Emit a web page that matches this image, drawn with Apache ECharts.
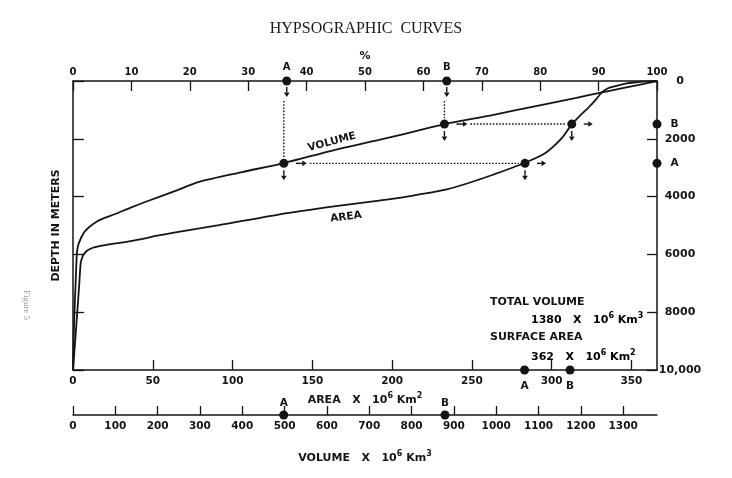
<!DOCTYPE html>
<html><head><meta charset="utf-8">
<script src="https://cdn.jsdelivr.net/npm/echarts@6/dist/echarts.min.js"></script>
<style>html,body{margin:0;padding:0;background:#fff}#c{width:732px;height:478px}</style>
</head><body><div id="c"></div>
<script>
// ---------- data ----------
const pctTicks = [0, 10, 20, 30, 40, 50, 60, 70, 80, 90, 100];
const depthTicks = [0, 2000, 4000, 6000, 8000, 10000];
const areaTicks = [0, 50, 100, 150, 200, 250, 300, 350];
const volumeTicks = [0, 100, 200, 300, 400, 500, 600, 700, 800, 900, 1000, 1100, 1200, 1300];
const areaAxisMax = 366;      // right end of hand-drawn area scale
const totalVolume = 1380;     // 10^6 km^3
const totalArea = 362;        // 10^6 km^2

// cumulative volume curve (% of total) vs depth (m)
const volumeCurvePct = [0, 0.1, 0.25, 0.45, 0.63, 0.74, 1.03, 1.88, 2.74, 4.16, 5.5, 7.0, 9.9, 12.7, 17.3, 21.6, 29.0, 36.1, 44.9, 52.4, 60.9, 63.6, 72.0, 79.7, 86.0, 90.6, 93.5, 96.9, 100];
const volumeCurveDepth = [10000, 9000, 8000, 7000, 6060, 5830, 5590, 5240, 5060, 4850, 4730, 4620, 4380, 4160, 3820, 3490, 3150, 2840, 2380, 2040, 1625, 1490, 1170, 850, 590, 390, 270, 130, 0];

// cumulative area curve (% of total) vs depth (m)
const areaCurvePct = [0, 0.37, 0.73, 1.08, 1.32, 1.6, 1.88, 2.3, 2.74, 3.4, 4.16, 5.5, 7.0, 9.9, 14.7, 17.3, 25.0, 35.2, 45.0, 52.4, 55.8, 63.8, 69.5, 75.1, 77.4, 80.9, 83.7, 85.4, 86.9, 88.3, 89.5, 90.5, 91.7, 93.4, 94.8, 96.8, 98.5, 100];
const areaCurveDepth = [10000, 9000, 8000, 7000, 6290, 6100, 5990, 5890, 5830, 5770, 5735, 5680, 5630, 5540, 5345, 5250, 4990, 4620, 4330, 4140, 4045, 3760, 3410, 3010, 2830, 2490, 1980, 1500, 1180, 910, 655, 400, 241, 150, 86, 35, 10, 0];

// reference points A and B
const refNames = ['A', 'B'];
const refDepth = [2850, 1490];
const refTopPct = [36.6, 64.0];
const refVolumePct = [36.1, 63.6];
const refAreaPct = [77.4, 85.4];
const refArea = [283, 311.5];
const refVolume = [498, 879];

// ---------- styling / layout ----------
const W = 732, PLOT_LEFT = 73, PLOT_RIGHT = 75;
const PLOT_W = W - PLOT_LEFT - PLOT_RIGHT;
const INK = '#141414';
const F = 'DejaVu Sans';
const lab = (size) => ({ fontFamily: F, fontSize: size, fontWeight: 'bold', color: INK });
const sup = { fontFamily: F, fontSize: 8, fontWeight: 'bold', color: INK, padding: [0, 0, 8, 0] };
const axLine = { show: true, onZero: false, lineStyle: { color: INK, width: 1.5 } };
const tickIn = (len, inside) => ({ show: true, inside: inside, length: len, lineStyle: { color: INK, width: 1.3 } });
const plain = v => String(v);

function arrowEls(x1, y1, x2, y2) {
  const dx = x2 - x1, dy = y2 - y1, len = Math.hypot(dx, dy), ux = dx / len, uy = dy / len;
  const hl = 4.5, hw = 2.8;
  const bx = x2 - ux * hl, by = y2 - uy * hl;
  return [
    { type: 'line', shape: { x1: x1, y1: y1, x2: bx, y2: by }, style: { stroke: INK, lineWidth: 1.4 } },
    { type: 'polygon', shape: { points: [[x2, y2], [bx - uy * hw, by + ux * hw], [bx + uy * hw, by - ux * hw]] }, style: { fill: INK } }
  ];
}
function dotted(x1, y1, x2, y2) {
  return { type: 'line', shape: { x1: x1, y1: y1, x2: x2, y2: y2 }, style: { stroke: INK, lineWidth: 1.4, lineDash: [1.6, 1.6] } };
}

const chart = echarts.init(document.getElementById('c'), null, { renderer: 'canvas' });

const dotStyle = { color: INK, opacity: 1 };
const depthScale = { min: depthTicks[0], max: depthTicks[depthTicks.length - 1], interval: depthTicks[1] - depthTicks[0], inverse: true };

const option = {
  backgroundColor: '#ffffff',
  animation: false,
  title: {
    text: 'HYPSOGRAPHIC  CURVES', left: 'center', top: 21, padding: 0,
    textStyle: { fontFamily: 'Liberation Serif', fontSize: 16, fontWeight: 'normal', color: '#1a1a1a' }
  },
  grid: [
    { left: PLOT_LEFT, right: PLOT_RIGHT, top: 81, bottom: 108 },
    { left: PLOT_LEFT, right: PLOT_RIGHT, top: 405, bottom: 63 }
  ],
  xAxis: [
    {
      type: 'value', gridIndex: 0, position: 'top', min: pctTicks[0], max: pctTicks[pctTicks.length - 1], interval: pctTicks[1] - pctTicks[0],
      name: '%', nameLocation: 'middle', nameGap: 17, nameTextStyle: lab(11),
      axisLine: axLine, axisTick: tickIn(10, true), splitLine: { show: false },
      axisLabel: Object.assign({ margin: 4, formatter: plain }, lab(10))
    },
    {
      type: 'value', gridIndex: 0, position: 'bottom', min: areaTicks[0], max: areaAxisMax, interval: areaTicks[1] - areaTicks[0],
      name: '{t|AREA   X   10}{s|6}{t| Km}{s|2}', nameLocation: 'middle', nameGap: 21,
      nameTextStyle: { rich: { t: lab(11), s: sup } },
      axisLine: axLine, axisTick: tickIn(10, true), splitLine: { show: false },
      axisLabel: Object.assign({ margin: 6, showMaxLabel: false, formatter: plain }, lab(10.5))
    },
    {
      type: 'value', gridIndex: 1, position: 'bottom', min: volumeTicks[0], max: totalVolume, interval: volumeTicks[1] - volumeTicks[0],
      name: '{t|VOLUME   X   10}{s|6}{t| Km}{s|3}', nameLocation: 'middle', nameGap: 35,
      nameTextStyle: { rich: { t: lab(11), s: sup } },
      axisLine: axLine, axisTick: tickIn(9, true), splitLine: { show: false },
      axisLabel: Object.assign({ margin: 6, showMaxLabel: false, formatter: plain }, lab(10.5))
    }
  ],
  yAxis: [
    Object.assign({
      type: 'value', gridIndex: 0, position: 'right',
      axisLine: axLine, axisTick: tickIn(10, true), splitLine: { show: false },
      axisLabel: Object.assign({ margin: 23, align: 'center', formatter: v => v >= 10000 ? '10,000' : String(v) }, lab(11))
    }, depthScale),
    Object.assign({
      type: 'value', gridIndex: 0, position: 'left',
      name: 'DEPTH IN METERS', nameLocation: 'middle', nameGap: 11, nameRotate: 90, nameTextStyle: lab(11),
      axisLine: axLine, axisTick: tickIn(11, true), splitLine: { show: false }, axisLabel: { show: false }
    }, depthScale),
    { type: 'value', gridIndex: 1, min: 0, max: 1, show: false }
  ],
  series: [
    {
      name: 'Volume', type: 'line', xAxisIndex: 0, yAxisIndex: 0, showSymbol: false, symbol: 'none',
      smooth: 0.25, lineStyle: { color: INK, width: 1.8 },
      data: volumeCurvePct.map((p, i) => [p, volumeCurveDepth[i]]), z: 3
    },
    {
      name: 'Area', type: 'line', xAxisIndex: 0, yAxisIndex: 0, showSymbol: false, symbol: 'none',
      smooth: 0.25, lineStyle: { color: INK, width: 1.8 },
      data: areaCurvePct.map((p, i) => [p, areaCurveDepth[i]]), z: 3
    },
    {
      name: 'Construction', type: 'custom', xAxisIndex: 0, yAxisIndex: 0, z: 4,
      dimensions: ['top', 'vol', 'area', 'depth'],
      encode: { x: [0, 1, 2], y: 3 },
      data: refNames.map((n, i) => [refTopPct[i], refVolumePct[i], refAreaPct[i], refDepth[i]]),
      renderItem: function (params, api) {
        const t = api.coord([api.value(0), depthTicks[0]]);
        const v = api.coord([api.value(1), api.value(3)]);
        const a = api.coord([api.value(2), api.value(3)]);
        let ch = [];
        ch = ch.concat(arrowEls(t[0], t[1] + 6, t[0], t[1] + 16));
        ch.push(dotted(v[0], t[1] + 20, v[0], v[1] - 6));
        ch = ch.concat(arrowEls(v[0], v[1] + 7, v[0], v[1] + 17));
        ch = ch.concat(arrowEls(v[0] + 12, v[1], v[0] + 23, v[1]));
        ch.push(dotted(v[0] + 26, v[1], a[0] - 6, a[1]));
        ch = ch.concat(arrowEls(a[0] + 12, a[1], a[0] + 21, a[1]));
        ch = ch.concat(arrowEls(a[0], a[1] + 7, a[0], a[1] + 17));
        return { type: 'group', children: ch };
      }
    },
    {
      name: 'Curve points', type: 'scatter', xAxisIndex: 0, yAxisIndex: 0, symbolSize: 9, clip: false, z: 5,
      itemStyle: dotStyle,
      data: refNames.map((n, i) => [refVolumePct[i], refDepth[i]]).concat(refNames.map((n, i) => [refAreaPct[i], refDepth[i]]))
    },
    {
      name: 'Top points', type: 'scatter', xAxisIndex: 0, yAxisIndex: 0, symbolSize: 9, clip: false, z: 5,
      itemStyle: dotStyle,
      label: Object.assign({ show: true, position: 'top', distance: 4, formatter: p => refNames[p.dataIndex] }, lab(10)),
      data: refNames.map((n, i) => [refTopPct[i], depthTicks[0]])
    },
    {
      name: 'Depth points', type: 'scatter', xAxisIndex: 0, yAxisIndex: 0, symbolSize: 9, clip: false, z: 5,
      itemStyle: dotStyle,
      label: Object.assign({ show: true, position: 'right', distance: 9, formatter: p => refNames[p.dataIndex] }, lab(10.5)),
      data: refNames.map((n, i) => [pctTicks[pctTicks.length - 1], refDepth[i]])
    },
    {
      name: 'Area points', type: 'scatter', xAxisIndex: 1, yAxisIndex: 0, symbolSize: 9, clip: false, z: 5,
      itemStyle: dotStyle,
      label: Object.assign({ show: true, position: 'bottom', distance: 6, formatter: p => refNames[p.dataIndex] }, lab(10.5)),
      data: refNames.map((n, i) => [refArea[i], depthTicks[depthTicks.length - 1]])
    },
    {
      name: 'Volume points', type: 'scatter', xAxisIndex: 2, yAxisIndex: 2, symbolSize: 9, clip: false, z: 5,
      itemStyle: dotStyle,
      label: Object.assign({ show: true, position: 'top', distance: 2, formatter: p => refNames[p.dataIndex] }, lab(10.5)),
      data: refNames.map((n, i) => [refVolume[i], 0])
    }
  ],
  graphic: [
    { type: 'text', x: 332, y: 142, rotation: 0.26, style: { text: 'VOLUME', fontFamily: F, fontSize: 10.5, fontWeight: 'bold', fill: INK, align: 'center', verticalAlign: 'middle' } },
    { type: 'text', x: 346, y: 217, rotation: 0.12, style: { text: 'AREA', fontFamily: F, fontSize: 10.5, fontWeight: 'bold', fill: INK, align: 'center', verticalAlign: 'middle' } },
    { type: 'text', x: 490, y: 302.5, style: { text: 'TOTAL VOLUME', fontFamily: F, fontSize: 11, fontWeight: 'bold', fill: INK, align: 'left', verticalAlign: 'middle' } },
    { type: 'text', x: 531, y: 320, style: { text: '{t|' + totalVolume + '   X   10}{s|6}{t| Km}{s|3}', rich: { t: lab(11), s: sup }, align: 'left', verticalAlign: 'middle' } },
    { type: 'text', x: 490, y: 337.5, style: { text: 'SURFACE AREA', fontFamily: F, fontSize: 11, fontWeight: 'bold', fill: INK, align: 'left', verticalAlign: 'middle' } },
    { type: 'text', x: 531, y: 357, style: { text: '{t|' + totalArea + '   X   10}{s|6}{t| Km}{s|2}', rich: { t: lab(11), s: sup }, align: 'left', verticalAlign: 'middle' } },
    { type: 'text', x: 26, y: 305, rotation: -Math.PI / 2, style: { text: 'Figure 5', fontFamily: 'Liberation Serif', fontSize: 9, fill: '#9a9a9a', align: 'center', verticalAlign: 'middle' } }
  ]
};
chart.setOption(option);
</script>
</body></html>
